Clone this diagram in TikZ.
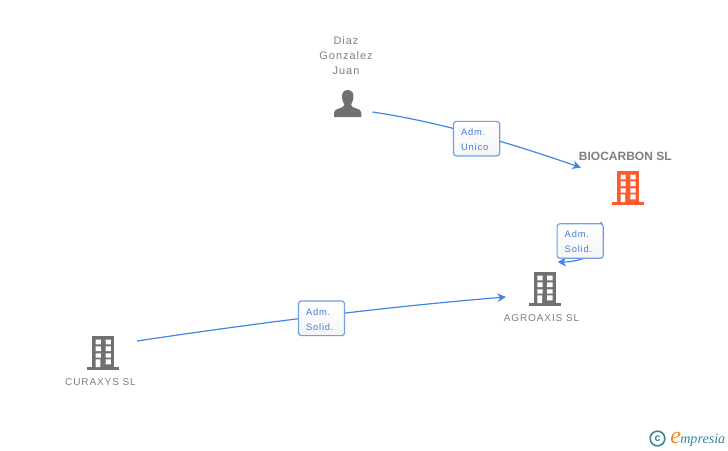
\documentclass[tikz,border=0pt]{standalone}
\usepackage{fontspec}
\setmainfont{Liberation Sans}
\newfontfamily\spaced[LetterSpace=9]{Liberation Sans}
\newfontfamily\logofont{Liberation Serif}
\usetikzlibrary{arrows.meta,positioning}
\definecolor{linkblue}{HTML}{3F86E6}
\definecolor{boxblue}{HTML}{6FA0E6}
\definecolor{txtblue}{HTML}{3B7DDD}
\definecolor{txtgray}{HTML}{7F7F7F}
\definecolor{icongray}{HTML}{707070}
\definecolor{iconorange}{HTML}{FF5A2B}
\definecolor{logoteal}{HTML}{3C8496}
\definecolor{logoorange}{HTML}{F08A1D}
\pgfdeclarelayer{bg}
\pgfsetlayers{bg,main}
\tikzset{
  x=0.75pt,y=-0.75pt,
  link/.style={draw=linkblue,line width=0.9pt,-{Stealth[length=6.5pt,width=6.5pt]}},
  rolebox/.style={draw=boxblue,line width=0.9pt,rounded corners=2.2pt,top color=white,bottom color=white!96!black,
    minimum width=34.6pt,minimum height=26pt,inner sep=0pt,text width=23.25pt,align=left,text=txtblue,
    text height=6.6pt,
    font=\spaced\fontsize{7}{11.2}\selectfont},
  name label/.style={inner sep=0pt,align=center,text=txtgray,font=\spaced\fontsize{8.2}{11.2}\selectfont},
  caps label/.style={inner sep=0pt,align=center,text=txtgray,font=\spaced\fontsize{7.5}{11.2}\selectfont},
  bold label/.style={inner sep=0pt,text=txtgray,font=\bfseries\fontsize{9}{10}\selectfont},
  spot/.style={inner sep=0pt,minimum width=1pt,minimum height=1pt},
  pics/building/.style={code={
    \fill[#1] (-11,0) rectangle (11,31);
    \fill[#1] (-16,31) rectangle (16,34);
    \fill[white] (-7.7,3.7) rectangle (-2.5,8.3) (2.2,3.7) rectangle (7.5,8.3)
                 (-7.7,10.3) rectangle (-2.5,15) (2.2,10.3) rectangle (7.5,15)
                 (-7.7,17.3) rectangle (-2.5,21.7) (2.2,17.3) rectangle (7.5,21.7)
                 (-7.7,23.3) rectangle (-3,31) (2.2,23.3) rectangle (7.5,28.3);
  }},
}
\begin{document}
\begin{tikzpicture}
\useasboundingbox (0,0) rectangle (728,450);
\begin{pgfonlayer}{bg}
\fill[white] (0,0) rectangle (728,450);
\end{pgfonlayer}

% person
\node[spot] (person) at (347.7,104) {};
\fill[icongray] (347.7,90) .. controls (343,90) and (341.5,94) .. (342,98)
  .. controls (342.3,101) and (343.5,103) .. (344.5,104.5)
  .. controls (344.5,107) and (342,107.5) .. (339,108.5)
  .. controls (335.5,109.5) and (334,111) .. (334,113) -- (334,117) -- (361.3,117) -- (361.3,113)
  .. controls (361.3,111) and (360,109.5) .. (356.5,108.5)
  .. controls (353.5,107.5) and (351,107) .. (351,104.5)
  .. controls (352,103) and (353.1,101) .. (353.4,98)
  .. controls (353.9,94) and (352.4,90) .. (347.7,90) -- cycle;
\node[name label] (personname) at (346,56) {Diaz\\Gonzalez\\Juan};

% companies
\pic at (628.2,171) {building=iconorange};
\node[spot] (biocarbon) at (628.2,188) {};
\node[bold label] (biocarbonname) at (625.3,156.5) {BIOCARBON SL};

\pic at (545,272) {building=icongray};
\node[spot] (agroaxis) at (545,289) {};
\node[caps label] (agroaxisname) at (541.5,318) {AGROAXIS SL};

\pic at (103.3,336) {building=icongray};
\node[spot] (curaxys) at (103.3,353) {};
\node[caps label] (curaxysname) at (100.5,382) {CURAXYS SL};

% role boxes
\node[rolebox] (roleA) at (476.6,138.7) {Adm.\\Unico};
\node[rolebox] (roleB) at (580.2,241) {Adm.\\Solid.};
\node[rolebox] (roleC) at (321.5,318.3) {Adm.\\Solid.};

% connector free ends
\coordinate (s1) at (372.5,112);
\coordinate (e1) at (581,167.6);
\coordinate (s2) at (601,222);
\coordinate (e2) at (557.5,262);
\coordinate (s3) at (137,341);
\coordinate (e3) at (506,297);

\begin{pgfonlayer}{bg}
\draw[link] (s1) .. controls (440,122) and (510,143) .. (e1);
\draw[link] (s2) .. controls (612,250) and (585,262) .. (e2);
\draw[link] (s3) .. controls (230,327) and (370,308) .. (e3);
\end{pgfonlayer}

% logo
\node[draw=logoteal,line width=1.2pt,circle,minimum size=11pt,inner sep=0pt,text=logoteal,font=\fontsize{8}{8}\selectfont\bfseries] (copyright) at (657.5,438.5) {c};
\node[inner sep=0pt,anchor=base west,text=logoorange,font=\logofont\itshape\fontsize{18}{18}\selectfont] (logoe) at (670,443) {e};
\node[inner sep=0pt,anchor=base west,text=logoteal,font=\logofont\itshape\fontsize{10.6}{11}\selectfont] (logotext) at (680,443) {mpresia};
\end{tikzpicture}
\end{document}
